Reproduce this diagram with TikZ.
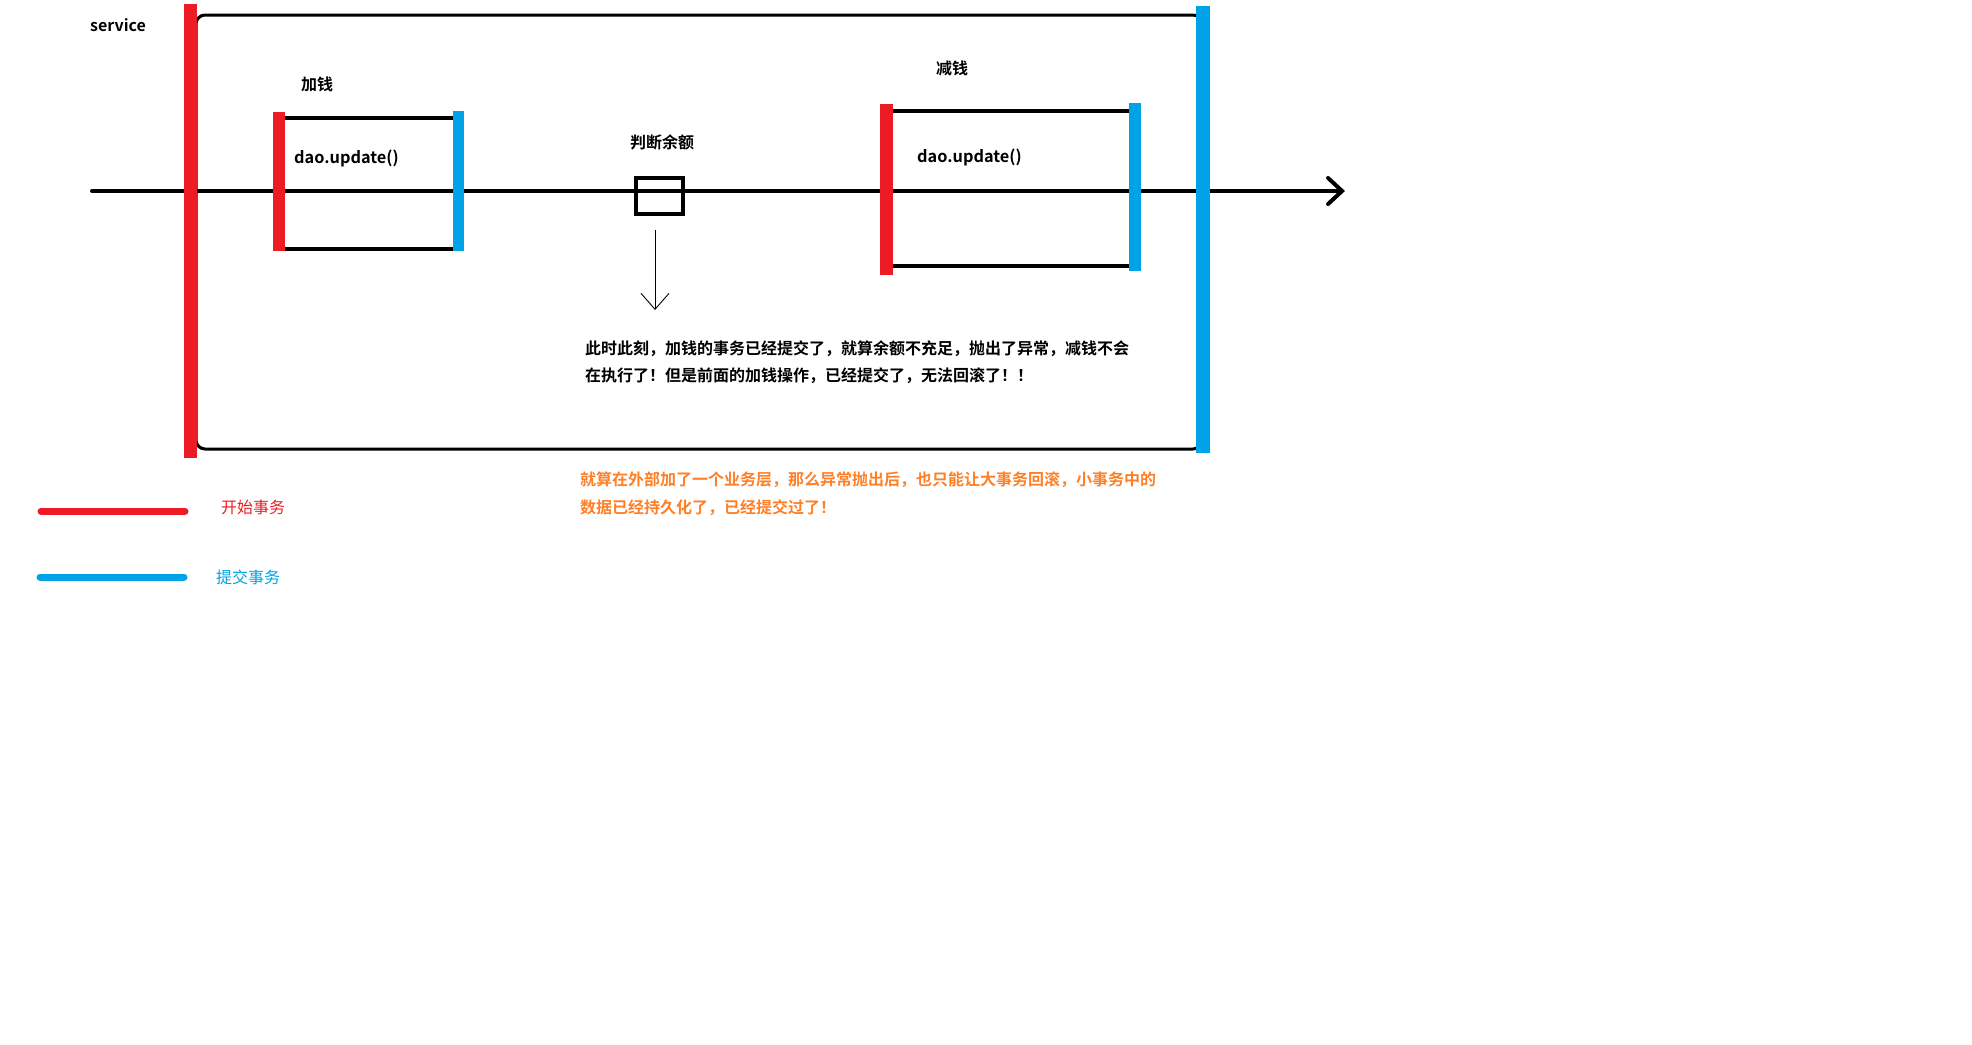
\documentclass[tikz,border=0pt]{standalone}
\usepackage{fontspec}
\setmainfont{Noto Sans CJK SC}[BoldFont={Noto Sans CJK SC Bold}]
\usetikzlibrary{arrows.meta}
\definecolor{pred}{HTML}{ED1C24}
\definecolor{pblue}{HTML}{00A2E8}
\definecolor{porange}{HTML}{FF7F27}
\tikzset{
  lbl/.style={inner sep=0pt, font=\fontsize{16}{16}\selectfont\bfseries},
  code/.style={inner sep=0pt, font=\fontsize{16.3}{16}\selectfont\bfseries},
  note/.style={inner sep=0pt, anchor=base west, font=\fontsize{16}{16}\selectfont\bfseries},
  legtext/.style={inner sep=0pt, anchor=base west, font=\fontsize{16}{16}\selectfont},
  blk/.style={line width=4pt, black},
  redbar/.style={fill=pred},
  bluebar/.style={fill=pblue},
}
\begin{document}
\begin{tikzpicture}[x=1pt,y=-1pt]
\useasboundingbox[fill=white] (0,0) rectangle (1972,1044);
% outer rounded frame
\draw[line width=3pt, rounded corners=9pt] (196,15) rectangle (1202,449);
% axis
\coordinate (axisL) at (92,191);
\coordinate (axisR) at (1345,191);
\draw[blk, line cap=round, -{Straight Barb[length=14pt,width=26pt,line cap=round]}] (axisL) -- (axisR);
% left inner box lines
\draw[blk] (280,118) -- (460,118);
\draw[blk] (280,249) -- (460,249);
% right inner box lines
\draw[blk] (888,111) -- (1135,111);
\draw[blk] (888,266) -- (1135,266);
% bars
\fill[redbar] (184,4) rectangle (197,458);
\fill[bluebar] (1196,6) rectangle (1210,453);
\fill[redbar] (273,112) rectangle (285,251);
\fill[bluebar] (453,111) rectangle (464,251);
\fill[redbar] (880,104) rectangle (893,275);
\fill[bluebar] (1129,103) rectangle (1141,271);
% judge box
\node[draw, line width=4pt, minimum width=47pt, minimum height=36pt, inner sep=0pt] (judge) at (659,196) {};
\coordinate (arrowEnd) at (655,310);
\draw[line width=0.9pt, -{Straight Barb[length=16pt,width=28pt]}] (judge.south) ++(-4,14) coordinate (arrowStart) -- (arrowEnd);
% labels
\node[lbl] (service) at (118,25) {service};
\node[lbl] (addlbl) at (317,84) {加钱};
\node[lbl] (sublbl) at (952,68) {减钱};
\node[lbl] (judgelbl) at (662,142) {判断余额};
\node[code, anchor=west] (dao1) at (294,158.5) {dao.update()};
\node[code, anchor=west] (dao2) at (917,157.5) {dao.update()};
% notes
\node[note] (n1) at (585,354) {此时此刻，加钱的事务已经提交了，就算余额不充足，抛出了异常，减钱不会};
\node[note] (n2) at (585,381) {在执行了！但是前面的加钱操作，已经提交了，无法回滚了！！};
\node[note, text=porange] (o1) at (580,485) {就算在外部加了一个业务层，那么异常抛出后，也只能让大事务回滚，小事务中的};
\node[note, text=porange] (o2) at (580,513) {数据已经持久化了，已经提交过了！};
% legend
\coordinate (lr1) at (41,511);
\coordinate (lr2) at (185,511);
\draw[pred, line width=7pt, line cap=round] (lr1) -- (lr2);
\coordinate (lb1) at (40,577);
\coordinate (lb2) at (184,577);
\draw[pblue, line width=7pt, line cap=round] (lb1) -- (lb2);
\node[legtext, text=pred] (leg1) at (221,513) {开始事务};
\node[legtext, text=pblue] (leg2) at (216,583) {提交事务};
\end{tikzpicture}
\end{document}
